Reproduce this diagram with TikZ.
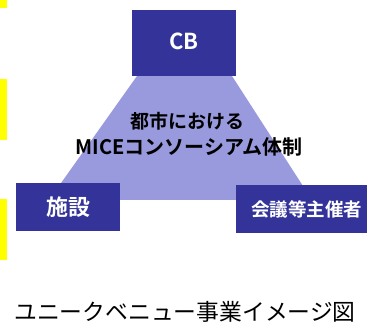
\documentclass[tikz,border=0pt]{standalone}
\usepackage{fontspec}
\setmainfont{Noto Sans CJK JP}
\newfontfamily\jpb{Noto Sans CJK JP Bold}
\definecolor{boxblue}{RGB}{51,51,153}
\definecolor{tri}{RGB}{153,153,221}
\definecolor{mark}{RGB}{255,255,0}
\tikzset{
  rolebox/.style={fill=boxblue,draw=none,text=white,inner sep=0pt,anchor=north west,align=center,font=\jpb},
  band/.style={fill=mark,draw=none}
}
\begin{document}
\begin{tikzpicture}[x=1pt,y=-1pt]
\useasboundingbox (0,0) rectangle (367,323);
\fill[white] (0,0) rectangle (367,323);
\fill[band] (0,0) rectangle (7,8);
\fill[band] (0,79) rectangle (7,140);
\fill[band] (0,199) rectangle (7,260);
\fill[tri] (137,76) -- (232,76) -- (312,200) -- (49,200) -- cycle;
\node[rolebox,minimum width=104pt,minimum height=66pt,font=\jpb\fontsize{22}{22}\selectfont] (cb) at (132,10) {\raisebox{3pt}{CB}};
\node[rolebox,minimum width=104pt,minimum height=48pt,font=\jpb\fontsize{22}{22}\selectfont] (shisetsu) at (16,182.5) {\raisebox{2pt}{施設}};
\node[rolebox,minimum width=131pt,minimum height=48pt,font=\jpb\fontsize{18.5}{19}\selectfont] (kaigi) at (236,185) {\hspace*{10pt}\raisebox{2pt}{会議等主催者}};
\node[font=\jpb\fontsize{19}{20}\selectfont,text=black] (t1) at (187,121) {都市における};
\node[font=\jpb\fontsize{20}{21}\selectfont,text=black] (t2) at (189,147) {MICEコンソーシアム体制};
\node[font=\fontsize{22.8}{24}\selectfont,text=black,inner sep=0pt,anchor=base] (cap) at (185,320) {\smash{ユニークベニュー事業イメージ図}};
\end{tikzpicture}
\end{document}
